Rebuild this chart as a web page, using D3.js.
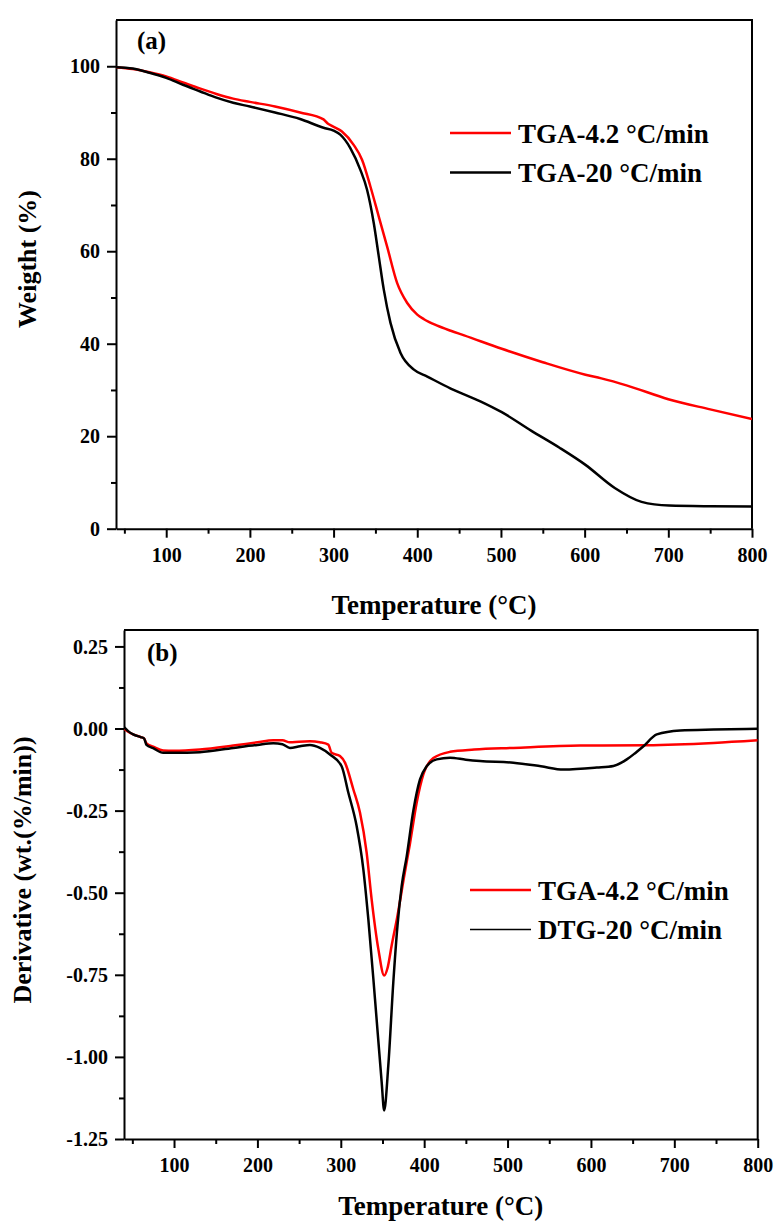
<!DOCTYPE html>
<html><head><meta charset="utf-8">
<script src="https://cdn.jsdelivr.net/npm/d3@7"></script>
<style>
body{margin:0;background:#fff;}
svg text{font-family:"Liberation Serif","Times New Roman",serif;font-weight:bold;fill:#000;}
</style></head>
<body><svg id="c" width="774" height="1231"></svg>
<script>
// ---------- data ----------
const tgaTemp42 = [40,60,80,100,120,140,160,180,200,230,260,288,293,298,310,324,334,344,354,364,376,388,400,408,424,440,456,501,550,601,620,650,700,750,800];
const tgaW42    = [99.8,99.4,98.7,97.8,96.5,95.2,94.0,93.0,92.3,91.3,90.0,88.5,87.6,87.1,85.9,83.0,79.8,74.0,67.5,61.0,53.1,48.8,46.3,45.3,43.9,42.8,41.8,38.9,36.0,33.3,32.5,31.0,28.0,25.8,23.7];
const tgaTemp20 = [40,60,80,100,120,140,160,180,200,230,260,288,300,308,320,332,340,348,354,360,368,380,396,412,440,476,501,536,570,601,636,668,701,750,800];
const tgaW20    = [99.8,99.5,98.6,97.5,96.0,94.6,93.2,92.1,91.3,90.0,88.6,86.7,86.1,85.2,82.3,77.6,73.3,66.1,58.9,51.7,44.5,38.0,34.4,32.9,30.3,27.5,25.2,21.2,17.5,13.8,8.8,5.8,5.0,4.85,4.8];

const dtgTemp42 = [40,45,51,60,64,67,75,87,100,131,171,200,219,230,239,250,263,275,285,289,299,305,315,323,331,337,345,352,356,361,368,376,383,391,399,411,431,460,507,587,667,747,800];
const dtgV42    = [0.0,-0.01,-0.018,-0.026,-0.03,-0.045,-0.055,-0.067,-0.068,-0.064,-0.052,-0.042,-0.036,-0.036,-0.042,-0.040,-0.039,-0.042,-0.049,-0.074,-0.084,-0.104,-0.185,-0.256,-0.378,-0.52,-0.671,-0.752,-0.73,-0.661,-0.57,-0.45,-0.35,-0.226,-0.14,-0.09,-0.071,-0.064,-0.059,-0.052,-0.051,-0.044,-0.036];
const dtgTemp20 = [40,45,51,60,64,67,75,87,100,131,171,200,219,230,239,251,263,275,287,301,309,319,327,333,341,349,352,357,363,368,373,379,387,395,403,415,431,450,467,507,540,567,607,627,643,653,663,679,707,747,800];
const dtgV20    = [0.004,-0.008,-0.018,-0.026,-0.03,-0.05,-0.06,-0.074,-0.074,-0.072,-0.059,-0.05,-0.045,-0.048,-0.059,-0.054,-0.05,-0.059,-0.079,-0.115,-0.195,-0.297,-0.428,-0.58,-0.823,-1.076,-1.163,-1.026,-0.772,-0.60,-0.48,-0.39,-0.25,-0.155,-0.115,-0.094,-0.089,-0.095,-0.099,-0.104,-0.115,-0.125,-0.119,-0.114,-0.094,-0.075,-0.054,-0.018,-0.006,-0.003,-0.001];

const xMajor = [100,200,300,400,500,600,700,800];
const xMinor = [50,150,250,350,450,550,650,750];
const wMajor = [0,20,40,60,80,100];
const wMinor = [10,30,50,70,90];
const dMajor = [0.25,0,-0.25,-0.5,-0.75,-1.0,-1.25];
const dMinor = [0.125,-0.125,-0.375,-0.625,-0.875,-1.125];

const legendTop = ["TGA-4.2 °C/min","TGA-20 °C/min"];
const legendBot = ["TGA-4.2 °C/min","DTG-20 °C/min"];

// ---------- drawing ----------
const svg = d3.select("#c");
const RED = "#ff0000", BLK = "#000000";

function panel(o){
  const g = svg.append("g");
  const x = d3.scaleLinear().domain([40,800]).range([o.left,o.right]);
  const y = d3.scaleLinear().domain(o.ydom).range([o.bottom,o.top]);
  const mx = g.append("g").attr("transform",`translate(0,${o.bottom})`)
    .call(d3.axisBottom(x).tickValues(xMinor).tickSize(5).tickSizeOuter(0).tickFormat(""));
  mx.select(".domain").remove();
  const my = g.append("g").attr("transform",`translate(${o.left},0)`)
    .call(d3.axisLeft(y).tickValues(o.yMinor).tickSize(5).tickSizeOuter(0).tickFormat(""));
  my.select(".domain").remove();
  const ax = g.append("g").attr("transform",`translate(0,${o.bottom})`)
    .call(d3.axisBottom(x).tickValues(xMajor).tickSize(9).tickSizeOuter(0).tickFormat(d3.format("d")));
  ax.selectAll("text").attr("y",33).attr("dy",0).style("font-size","20px");
  const ay = g.append("g").attr("transform",`translate(${o.left},0)`)
    .call(d3.axisLeft(y).tickValues(o.yMajor).tickSize(9).tickSizeOuter(0).tickFormat(o.fmt));
  ay.selectAll("text").attr("x",-16).attr("dy","0.33em").style("font-size","20px");
  [mx,my,ax,ay].forEach(a=>{
    a.attr("font-family",null).attr("font-size",null);
    a.selectAll("line").attr("stroke","#000").attr("stroke-width",2);
    a.selectAll(".domain").attr("stroke","#000").attr("stroke-width",2);
  });
  g.append("path").attr("d",`M${o.left},${o.top}H${o.right}V${o.bottom}`)
    .attr("fill","none").attr("stroke","#000").attr("stroke-width",2);
  const clip = "clip"+o.id;
  svg.append("clipPath").attr("id",clip).append("rect")
    .attr("x",o.left).attr("y",o.top).attr("width",o.right-o.left).attr("height",o.bottom-o.top);
  const line = d3.line().x(d=>x(d[0])).y(d=>y(d[1])).curve(d3.curveMonotoneX);
  o.series.forEach(s=>{
    g.append("path").datum(s.t.map((t,i)=>[t,s.v[i]]))
      .attr("clip-path",`url(#${clip})`)
      .attr("d",line).attr("fill","none").attr("stroke",s.c).attr("stroke-width",s.w)
      .attr("stroke-linejoin","round");
  });
  o.legend.forEach((l,i)=>{
    g.append("line").attr("x1",o.lx).attr("x2",o.lx+61).attr("y1",o.ly+i*o.lstep).attr("y2",o.ly+i*o.lstep)
      .attr("stroke",o.series[i].c).attr("stroke-width",o.lw[i]);
    g.append("text").attr("x",o.lx+68).attr("y",o.ly+i*o.lstep+9.5).style("font-size","27px").text(l);
  });
  g.append("text").attr("x",o.tagx).attr("y",o.tagy).style("font-size","25px").text(o.tag);
  g.append("text").attr("x",(o.left+o.right)/2).attr("y",o.xty).attr("text-anchor","middle")
    .style("font-size","27px").text("Temperature (°C)");
  g.append("text").attr("transform",`translate(${o.ytx},${o.yty}) rotate(-90)`).attr("text-anchor","middle")
    .style("font-size","26px").text(o.ytitle);
}

panel({id:"a", left:116, right:752, top:20, bottom:528.7, ydom:[0,110],
  yMajor:wMajor, yMinor:wMinor, fmt:d3.format("d"),
  series:[{t:tgaTemp42,v:tgaW42,c:RED,w:2.5},{t:tgaTemp20,v:tgaW20,c:BLK,w:2.5}],
  legend:legendTop, lx:450, ly:133, lstep:39.5, lw:[2.5,2.5],
  tag:"(a)", tagx:137, tagy:49, xty:614, ytx:36, yty:259, ytitle:"Weigtht (%)"});

panel({id:"b", left:124, right:757.7, top:630, bottom:1139, ydom:[-1.25,0.30],
  yMajor:dMajor, yMinor:dMinor, fmt:d=>d.toFixed(2),
  series:[{t:dtgTemp42,v:dtgV42,c:RED,w:2.5},{t:dtgTemp20,v:dtgV20,c:BLK,w:2.5}],
  legend:legendBot, lx:470, ly:890, lstep:39.5, lw:[2.5,1.5],
  tag:"(b)", tagx:147, tagy:661, xty:1215, ytx:31, yty:870, ytitle:"Derivative (wt.(%/min))"});
</script></body></html>
